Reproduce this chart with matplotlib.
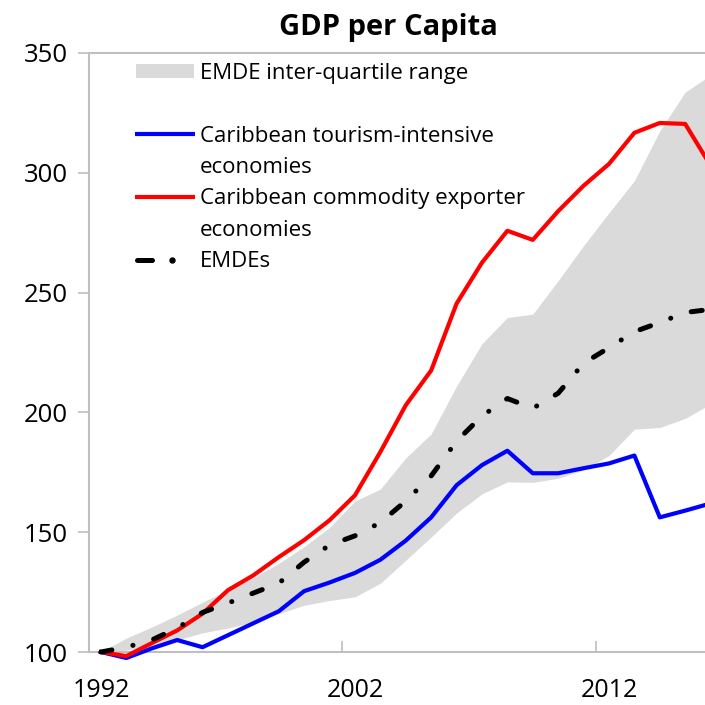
import numpy as np
import matplotlib
matplotlib.use("Agg")
import matplotlib.pyplot as plt
from matplotlib.patches import Rectangle

plt.rcParams['font.family'] = ['Open Sans', 'DejaVu Sans']
plt.rcParams['lines.scale_dashes'] = False

years = np.arange(1992, 2017)

tourism = [100, 97.5, 101.5, 105, 102, 107, 112, 117, 125.4, 129, 133, 138.5,
           146.5, 156.2, 169.6, 178, 184, 174.6, 174.6, 176.7, 178.7, 182,
           156.2, 159, 162]
commodity = [100, 98.3, 103.7, 109, 116, 125.8, 132, 139.6, 146.7, 155, 165.4,
             183.5, 203, 217.5, 245.4, 262.5, 275.8, 272, 284, 294.6, 303.7,
             316.7, 320.8, 320.4, 303]
emde = [100, 102, 105, 110, 116.5, 120.4, 124.6, 128.7, 137.5, 144.6, 148.5,
        154, 163, 173.5, 188, 198.5, 205.8, 201.7, 208, 220.5, 227, 233.7,
        237.5, 241.7, 243]
iqr_low = [100, 100.8, 102.5, 105, 108, 110, 112.5, 116, 119.5, 121.5, 123,
           128.7, 138.3, 148, 158, 166, 171, 170.8, 172.5, 176, 182, 193,
           193.7, 197.5, 203.5]
iqr_high = [100, 105.8, 110.4, 115.4, 120.8, 125.8, 131, 137, 144, 152, 163,
            168, 181, 191, 211, 228.7, 239.6, 241, 255, 269.6, 283.3, 296.7,
            317.5, 333.7, 340.8]

fig = plt.figure(figsize=(7.05, 7.05), dpi=100)
ax = fig.add_axes([89/705, 53/705, 616/705, 599/705])

ax.fill_between(years, iqr_low, iqr_high, color='#dadada', lw=0, zorder=1)
ax.plot(years, tourism, color='#0000ff', lw=3, zorder=3, clip_on=False)
ax.plot(years, commodity, color='#ff0000', lw=3, zorder=3, clip_on=False)
ax.plot(years, emde, color='black', lw=3.6, dash_capstyle='round',
        dashes=(8, 15.5, 0.1, 15.5), zorder=4, clip_on=False)

ax.set_xlim(1991.53, 2015.78)
ax.set_ylim(100, 350)
ax.set_yticks(np.arange(100, 351, 50))
ax.set_xticks([2001.5, 2011.5])
ax.set_xticklabels([])
ax.set_xticks([1992, 2002, 2012], minor=True)
ax.set_xticklabels(['1992', '2002', '2012'], minor=True)
ax.tick_params(axis='x', which='major', direction='in', length=8,
               color='#bfbfbf', width=1.2)
ax.tick_params(axis='x', which='minor', length=0, pad=19, labelsize=18)
ax.tick_params(axis='y', direction='out', length=8, color='#bfbfbf',
               width=1.2, pad=7, labelsize=18.5)

for s in ['left', 'bottom', 'top']:
    ax.spines[s].set_color('#bfbfbf')
    ax.spines[s].set_linewidth(1.5)
    ax.spines[s].set_zorder(0.5)
ax.spines['right'].set_visible(False)

fig.text(388/705, 1 - 27/705, 'GDP per Capita', ha='center', va='center',
         fontsize=21, fontweight='bold')

# legend drawn by hand
def ax_xy(px, py):
    return (px - 89) / 616, (652 - py) / 599

tr = ax.transAxes
x0, y0 = ax_xy(136, 78)
x1, y1 = ax_xy(194, 64)
ax.add_patch(Rectangle((x0, y0), x1 - x0, y1 - y0, transform=tr,
                       color='#dadada', lw=0, clip_on=False))
for py, col in [(134, '#0000ff'), (197, '#ff0000')]:
    a = ax_xy(135, py)
    b = ax_xy(195, py)
    ax.plot([a[0], b[0]], [a[1], b[1]], color=col, lw=3, transform=tr,
            solid_capstyle='butt')
a = ax_xy(137, 260)
b = ax_xy(152, 260)
ax.plot([a[0], b[0]], [a[1], b[1]], color='black', lw=3.6, transform=tr,
        solid_capstyle='round')
c = ax_xy(172, 260)
ax.plot([c[0]], [c[1]], 'o', color='black', ms=3.6, transform=tr)

labels = [(79, 'EMDE inter-quartile range'),
          (141.7, 'Caribbean tourism-intensive'),
          (173, 'economies'),
          (204.3, 'Caribbean commodity exporter'),
          (236.5, 'economies'),
          (267.3, 'EMDEs')]
for py, txt in labels:
    tx, ty = ax_xy(200, py)
    ax.text(tx, ty, txt, transform=tr, fontsize=16, va='baseline',
            ha='left', color='black')

fig.savefig('out.png', dpi=100)
